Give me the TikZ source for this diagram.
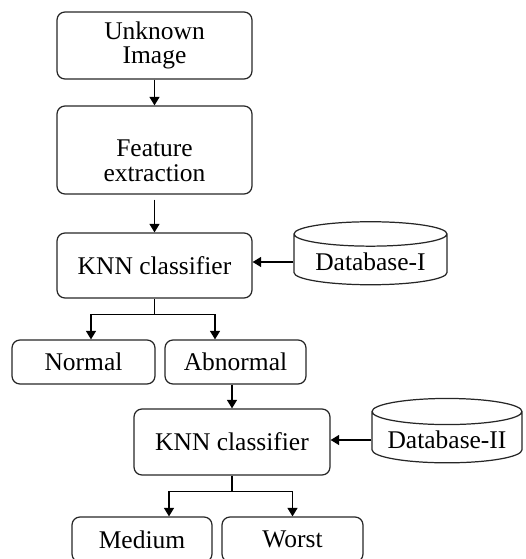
\documentclass[tikz,border=0pt]{standalone}
\usepackage{fontspec}
\setmainfont{Liberation Serif}
\usetikzlibrary{arrows.meta}
\usetikzlibrary{calc}
\usetikzlibrary{shapes.geometric}
\tikzset{box/.style={draw=black!85, line width=0.7pt, rounded corners=0.16cm, align=center,
    font=\fontsize{14.5}{14}\selectfont}}
\tikzset{dbase/.style={draw=black!85, line width=0.7pt, cylinder, shape border rotate=90,
    aspect=0.2, font=\fontsize{14.5}{14}\selectfont}}
\tikzset{arrow/.style={-{Triangle[length=0.17cm,width=0.2cm]}, line width=0.7pt, draw=black}}

\begin{document}
\begin{tikzpicture}
        \clip (0,0) rectangle (10.5,-11.18);

        \node[box, minimum width=3.9cm, minimum height=1.34cm] (unk) at (3.09,-0.91) {Unknown\\Image};
        \node[box, minimum width=3.9cm, minimum height=1.76cm,
            label={[align=center, yshift=-0.22cm, font=\fontsize{14.5}{14}\selectfont]center:Feature\\extraction}]
            (feat) at (3.09,-3.0) {};
        \node[box, minimum width=3.9cm, minimum height=1.3cm] (knn1) at (3.09,-5.31) {KNN classifier};
        \node[dbase, minimum width=3.06cm, minimum height=1.26cm] (db1) at (7.41,-5.24) {Database-I};

        \node[box, minimum width=2.86cm, minimum height=0.88cm] (normal) at (1.67,-7.24) {Normal};
        \node[box, minimum width=2.82cm, minimum height=0.88cm] (abn) at (4.71,-7.24) {Abnormal};

        \node[box, minimum width=3.92cm, minimum height=1.32cm] (knn2) at (4.64,-8.84) {KNN classifier};
        \node[dbase, minimum width=3.0cm, minimum height=1.22cm] (db2) at (8.94,-8.8) {Database-II};

        \node[box, minimum width=2.8cm, minimum height=0.9cm] (med) at (2.84,-10.79) {Medium};
        \node[box, minimum width=2.82cm, minimum height=0.9cm] (worst) at (5.85,-10.79) {Worst};

        \coordinate (fork1) at ($(knn1.south)+(0,-0.32)$);
        \coordinate (fork2) at ($(knn2.south)+(0,-0.32)$);

        % main chain
        \draw[arrow] (unk) -- (feat);
        \draw[arrow, shorten <=0.1cm] (feat) -- (knn1);
        \draw[arrow] (db1.west) -- (db1.west -| knn1.east);

        % first split
        \draw[line width=0.7pt] (knn1.south) -- (fork1);
        \draw[arrow] (fork1) -| ($(normal.north)+(0.15,0)$);
        \draw[arrow] (fork1) -| ($(abn.north)+(-0.41,0)$);

        \draw[arrow] (abn.south -| knn2.north) -- (knn2.north);
        \draw[arrow] (db2.west) -- (db2.west -| knn2.east);

        % second split
        \draw[line width=0.7pt] (knn2.south) -- (fork2);
        \draw[arrow] (fork2) -| ($(med.north)+(0.54,0)$);
        \draw[arrow] (fork2) -| (worst.north);
\end{tikzpicture}
\end{document}
